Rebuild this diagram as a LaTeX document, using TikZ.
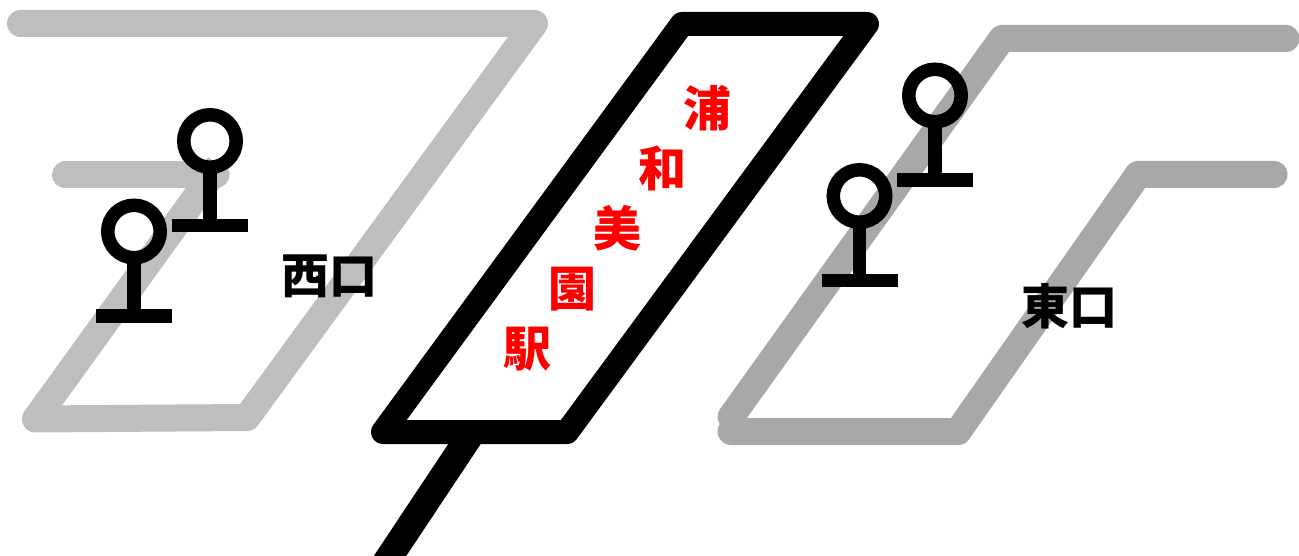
\documentclass[tikz,border=0pt]{standalone}
\usepackage{fontspec}
\newfontfamily\cjk{Noto Sans CJK JP Black}
\tikzset{
 px/.style={x=1pt,y=-1pt},
 lg/.style={color={rgb,255:red,190;green,190;blue,190},line width=27,line cap=round,line join=round},
 dg/.style={color={rgb,255:red,168;green,168;blue,168},line width=27,line cap=round,line join=round},
 bk/.style={draw=black,line width=24,line join=round,line cap=round},
 ring/.style={draw=black,line width=13.5,circle,minimum size=52.5,inner sep=0},
 lbl/.style={font=\cjk\fontsize{48}{48}\selectfont,inner sep=0},
 redlbl/.style={lbl,text=red}
}
\begin{document}
\begin{tikzpicture}[px]
\useasboundingbox (0,0) rectangle (1299,556);
\draw[lg] (20.5,23.5) -- (534.5,23.5) -- (247,417.5) -- (35.5,419) -- (211,176);
\draw[lg,line cap=butt] (211,176) -- (219,165);
\draw[lg] (65.5,175) -- (216,175);
\draw[dg] (1286,38.5) -- (1002,38.5) -- (731,417);
\draw[dg] (1274,174.5) -- (1138,174.5) -- (958,431.5) -- (731,431.5);
\begin{scope}
\clip (0,0) rectangle (1299,556);
\draw[black,line width=27,line cap=butt] (472.5,432) -- (380.7,570);
\end{scope}
\draw[bk] (682,24) -- (867,24) -- (567,432) -- (383,432) -- cycle;
\node[redlbl] (a) at (707,108) {浦};
\node[redlbl] (b) at (662,168) {和};
\node[redlbl] (c) at (617,228) {美};
\node[redlbl] (d) at (572,289) {園};
\node[redlbl] (e) at (527,349) {駅};
\node[lbl] (w) at (329,276) {西口};
\node[lbl] (h) at (1069,306) {東口};
\foreach \n/\x/\y/\b in {s1/210/141/225.5,s2/134/231.5/316,s3/935/95.5/180,s4/859.5/196/280.5}{
 \node[ring] (\n) at (\x,\y) {};
 \coordinate (\n b) at (\x,\b);
 \draw[black,line width=13.5] (\n b) ++(-38,0) -- ++(76,0);
 \draw[black,line width=13.5] ([yshift=2pt]\n.south) -- (\n b);
}
\end{tikzpicture}
\end{document}
